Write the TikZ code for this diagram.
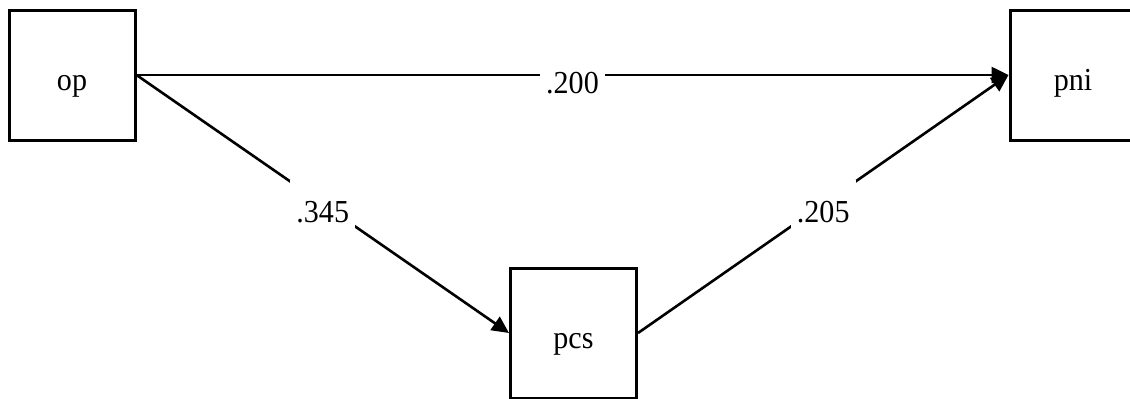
\documentclass[tikz,border=0pt]{standalone}
\usepackage{fontspec}
\setmainfont{Liberation Serif}[FakeStretch=0.94]
\usepackage{tikz}
\usetikzlibrary{arrows.meta}

\begin{document}
\begin{tikzpicture}[x=0.5pt, y=-0.5pt,
    every node/.style={font=\fontsize{16}{19}\selectfont},
    var/.style={draw, line width=1.5pt, minimum width=63pt, minimum height=65pt, inner sep=0pt, text height=15pt, text depth=0pt},
    path/.style={line width=1.3pt, -{Triangle[length=8.5pt, width=8pt]}},
    coef/.style={fill=white, inner xsep=3pt, inner ysep=3pt, text height=18pt, text depth=0pt}]
        \useasboundingbox (0,0) rectangle (1130,398);
        \node[var] (op) at (72,75) {op};
        \node[var] (pni) at (1073,75) {pni};
        \node[var] (pcs) at (573.5,333) {pcs};
        \draw[path] (op.east) -- node[coef] {.200} (pni.west);
        \draw[path] (op.east) -- node[coef] {.345} (pcs.west);
        \draw[path] (pcs.east) -- node[coef] {.205} (pni.west);
      \end{tikzpicture}
\end{document}
